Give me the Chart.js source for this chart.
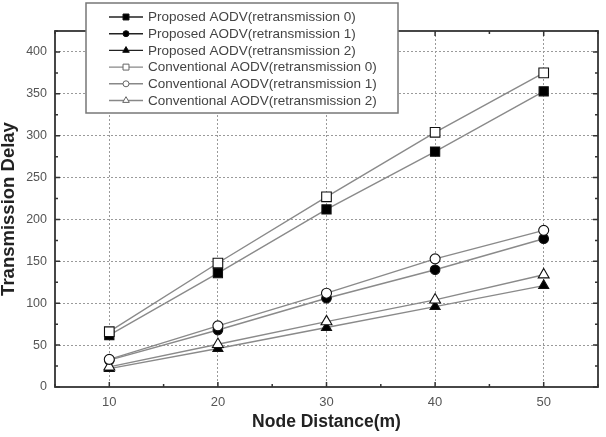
<!DOCTYPE html>
<html>
<head>
<meta charset="utf-8">
<script src="https://cdn.jsdelivr.net/npm/chart.js@4/dist/chart.umd.min.js"></script>
<style>
  html, body { margin: 0; padding: 0; background: #fff; }
  #wrap { width: 606px; height: 437px; }
</style>
</head>
<body>
<div id="wrap"><canvas id="c" width="606" height="437"></canvas></div>
<script>
// ---- data ----
const nodeDistance = [10, 20, 30, 40, 50];
const proposed0 = [62, 136, 212, 281, 353];
const proposed1 = [32, 68, 106, 140, 177];
const proposed2 = [22, 46, 71, 96, 121];
const conventional0 = [66, 148, 227, 304, 375];
const conventional1 = [33, 73, 112, 153, 187];
const conventional2 = [24, 51, 78, 104, 134];
const seriesLabels = [
  'Proposed AODV(retransmission 0)',
  'Proposed AODV(retransmission 1)',
  'Proposed AODV(retransmission 2)',
  'Conventional AODV(retransmission 0)',
  'Conventional AODV(retransmission 1)',
  'Conventional AODV(retransmission 2)'
];
const xTickLabels = [10, 20, 30, 40, 50];
const yTickLabels = [0, 50, 100, 150, 200, 250, 300, 350, 400];

const FONT = "'Liberation Sans', Arial, sans-serif";
const pts = (arr) => nodeDistance.map((x, i) => ({x: x, y: arr[i]}));

const styles = [
  {data: proposed0, shape: 'rect', fill: '#000', r: 6.5, order: 1, legendLine: '#222'},
  {data: proposed1, shape: 'circle', fill: '#000', r: 4.8, order: 1, legendLine: '#222'},
  {data: proposed2, shape: 'triangle', fill: '#000', r: 5.8, order: 1, legendLine: '#222'},
  {data: conventional0, shape: 'rect', fill: '#fff', r: 6.8, order: 0, legendLine: '#888'},
  {data: conventional1, shape: 'circle', fill: '#fff', r: 5, order: 0, legendLine: '#888'},
  {data: conventional2, shape: 'triangle', fill: '#fff', r: 6.3, order: 0, legendLine: '#888'}
];

const datasets = styles.map((s, i) => ({
  label: seriesLabels[i],
  data: pts(s.data),
  borderColor: '#8a8a8a',
  borderWidth: 1.4,
  pointStyle: s.shape,
  pointRadius: s.r,
  pointBackgroundColor: s.fill,
  pointBorderColor: '#111',
  pointBorderWidth: 1.1,
  fill: false,
  tension: 0,
  order: s.order,
  legendLine: s.legendLine
}));

const framePlugin = {
  id: 'frame',
  afterDatasetsDraw(chart) {
    const {ctx, chartArea: a, scales: {x, y}} = chart;
    ctx.save();
    ctx.strokeStyle = '#333';
    ctx.lineWidth = 1.8;
    ctx.strokeRect(a.left, a.top, a.right - a.left, a.bottom - a.top);
    ctx.lineWidth = 1.5;
    ctx.beginPath();
    for (let v = 5; v <= 55; v += 5) {
      const px = x.getPixelForValue(v);
      const len = (v % 10 === 0) ? 5 : 3;
      ctx.moveTo(px, a.bottom); ctx.lineTo(px, a.bottom - len);
      ctx.moveTo(px, a.top); ctx.lineTo(px, a.top + len);
    }
    for (let v = 0; v <= 425; v += 25) {
      const py = y.getPixelForValue(v);
      const len = (v % 50 === 0) ? 5 : 3;
      ctx.moveTo(a.left, py); ctx.lineTo(a.left + len, py);
      ctx.moveTo(a.right, py); ctx.lineTo(a.right - len, py);
    }
    ctx.stroke();
    ctx.restore();
  },
  afterDraw(chart) {
    const ctx = chart.ctx;
    const box = {x: 86, y: 3, w: 312, h: 110};
    ctx.save();
    ctx.fillStyle = '#fff';
    ctx.fillRect(box.x, box.y, box.w, box.h);
    ctx.strokeStyle = '#777';
    ctx.lineWidth = 1.5;
    ctx.strokeRect(box.x, box.y, box.w, box.h);
    chart.data.datasets.forEach((ds, i) => {
      const cy = 17 + i * 16.7;
      ctx.strokeStyle = ds.legendLine;
      ctx.lineWidth = 1.4;
      ctx.beginPath();
      ctx.moveTo(109, cy); ctx.lineTo(143, cy);
      ctx.stroke();
      ctx.fillStyle = ds.pointBackgroundColor;
      ctx.strokeStyle = i < 3 ? '#111' : '#666';
      ctx.lineWidth = 1;
      const r = ds.pointStyle === 'rect' ? 4.2 : (ds.pointStyle === 'circle' ? 3 : 3.8);
      Chart.helpers.drawPoint(ctx, {pointStyle: ds.pointStyle, radius: r, rotation: 0, borderWidth: 1}, 126, cy);
      ctx.fillStyle = '#444';
      ctx.font = '13.5px ' + FONT;
      ctx.textBaseline = 'middle';
      ctx.textAlign = 'left';
      ctx.fillText(ds.label, 148, cy + 0.5);
    });
    ctx.restore();
  }
};

new Chart(document.getElementById('c'), {
  type: 'line',
  data: {datasets},
  options: {
    responsive: false,
    animation: false,
    devicePixelRatio: 1,
    layout: {padding: {top: 31, right: 6, left: 0, bottom: 0}},
    plugins: {legend: {display: false}, tooltip: {enabled: false}},
    scales: {
      x: {
        type: 'linear',
        min: 5, max: 55,
        afterFit(s) { s.height = 50; },
        afterBuildTicks(s) { s.ticks = []; for (let v = 5; v <= 55; v += 5) s.ticks.push({value: v}); },
        ticks: {
          autoSkip: false, maxRotation: 0, padding: 8,
          color: '#555', font: {family: FONT, size: 13},
          callback: (v) => xTickLabels.includes(v) ? String(v) : ''
        },
        grid: {
          drawTicks: false, lineWidth: 1,
          color: (c) => (c.tick && xTickLabels.includes(c.tick.value)) ? '#9a9a9a' : 'rgba(0,0,0,0)'
        },
        border: {display: false, dash: [2, 2]},
        title: {display: true, text: 'Node Distance(m)', color: '#222',
                font: {family: FONT, size: 17.5, weight: 'bold', lineHeight: 1}, padding: {top: 0, bottom: 6}}
      },
      y: {
        type: 'linear',
        min: 0, max: 425,
        afterFit(s) { s.width = 55; },
        afterBuildTicks(s) { s.ticks = []; for (let v = 0; v <= 425; v += 25) s.ticks.push({value: v}); },
        ticks: {
          autoSkip: false, padding: 8,
          color: '#555', font: {family: FONT, size: 12.5},
          callback: (v) => yTickLabels.includes(v) ? String(v) : ''
        },
        grid: {
          drawTicks: false, lineWidth: 1,
          color: (c) => (c.tick && c.tick.value > 0 && yTickLabels.includes(c.tick.value)) ? '#9a9a9a' : 'rgba(0,0,0,0)'
        },
        border: {display: false, dash: [2, 2]},
        title: {display: true, text: 'Transmission Delay', color: '#222',
                font: {family: FONT, size: 18.5, weight: 'bold', lineHeight: 1}, padding: {top: 0, bottom: 0}}
      }
    }
  },
  plugins: [framePlugin]
});
</script>
</body>
</html>
